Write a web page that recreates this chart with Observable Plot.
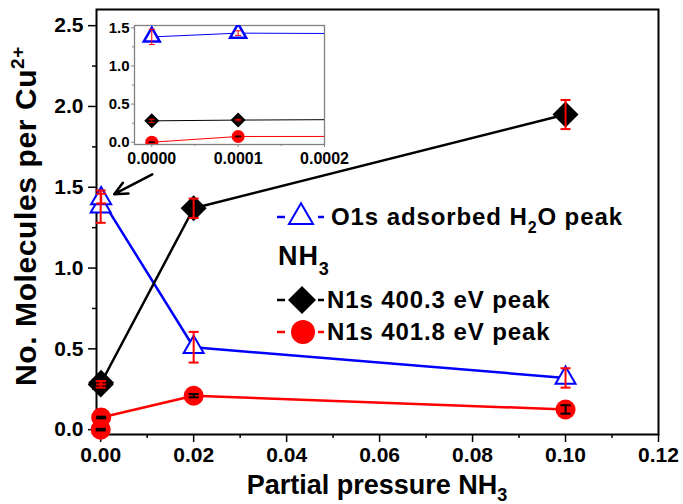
<!DOCTYPE html>
<html>
<head>
<meta charset="utf-8">
<script src="https://cdn.jsdelivr.net/npm/d3@7"></script>
<script src="https://cdn.jsdelivr.net/npm/@observablehq/plot@0.6"></script>
<style>
  body { margin: 0; background: #fff; }
  #chart { position: relative; width: 683px; height: 504px; overflow: hidden; }
  #chart svg { position: absolute; overflow: visible; }
</style>
</head>
<body>
<div id="chart"></div>
<script>
// NH3 partial pressure (x) and the three peak intensities per Cu2+ site
const pressure = [0, 0.0001, 0.02, 0.10];
const o1sWater = [1.38, 1.43, 0.51, 0.32];
const o1sWaterErr = [0.10, 0.03, 0.095, 0.06];
const n1s4003 = [0.28, 0.29, 1.37, 1.95];
const n1s4003Err = [0.02, 0.01, 0.06, 0.09];
const n1s4018 = [0.00, 0.075, 0.21, 0.125];
const n1s4018Err = [0.005, 0.005, 0.01, 0.026];

const seriesNames = ["O1s adsorbed H2O peak", "N1s 400.3 eV peak", "N1s 401.8 eV peak"];

// tick values
const mainXTicks = [0, 0.02, 0.04, 0.06, 0.08, 0.10, 0.12];
const mainXMinor = [0.01, 0.03, 0.05, 0.07, 0.09, 0.11];
const mainYTicks = [0, 0.5, 1.0, 1.5, 2.0, 2.5];
const mainYMinor = [0.25, 0.75, 1.25, 1.75, 2.25];
const insetXTicks = [0, 0.0001, 0.0002];
const insetXMinor = [0.00005, 0.00015];
const insetYTicks = [0, 0.5, 1.0, 1.5];
const insetYMinor = [0.25, 0.75, 1.25];

// arrow pointing from the inset to the low-pressure cluster
const arrowFrom = [0.0111, 1.58];
const arrowTo = [0.0029, 1.457];

// custom marker shapes (size = pi * r^2, as passed by Plot.dot)
const radius = (size) => Math.sqrt(size / Math.PI);
const capSymbol = {draw(ctx, size) { const r = radius(size); ctx.moveTo(-r, 0); ctx.lineTo(r, 0); }};
const diamondSymbol = {draw(ctx, size) {
  const r = radius(size);
  ctx.moveTo(0, -r); ctx.lineTo(r, 0); ctx.lineTo(0, r); ctx.lineTo(-r, 0); ctx.closePath();
}};
const triangleSymbol = {draw(ctx, size) {
  const r = radius(size), h = r * Math.sqrt(3);
  ctx.moveTo(0, -2 * h / 3); ctx.lineTo(r, h / 3); ctx.lineTo(-r, h / 3); ctx.closePath();
}};

const series = [
  {name: seriesNames[0], values: o1sWater, errors: o1sWaterErr, line: "#0000ff",
   symbol: triangleSymbol, fill: "white", stroke: "#0000ff", err: "#ff0000", kind: "tri"},
  {name: seriesNames[1], values: n1s4003, errors: n1s4003Err, line: "#000000",
   symbol: diamondSymbol, fill: "#000000", stroke: "none", err: "#ff0000", kind: "dia"},
  {name: seriesNames[2], values: n1s4018, errors: n1s4018Err, line: "#ff0000",
   symbol: "circle", fill: "#ff0000", stroke: "none", err: "#000000", kind: "cir"}
];

const rows = (s) => pressure.map((x, i) => ({x, y: s.values[i], e: s.errors[i]}));

function dataMarks(sz, clip) {
  const marks = [];
  for (const s of series)
    marks.push(Plot.line(rows(s), {x: "x", y: "y", stroke: s.line, strokeWidth: sz.line, clip}));
  for (const s of series)
    marks.push(Plot.dot(rows(s), {x: "x", y: "y", symbol: s.symbol, r: sz[s.kind],
      fill: s.fill, stroke: s.stroke, strokeWidth: sz.hollow, clip}));
  for (const s of series) {
    const r = rows(s);
    marks.push(Plot.ruleX(r, {x: "x", y1: (d) => d.y - d.e, y2: (d) => d.y + d.e,
      stroke: s.err, strokeWidth: sz.err, clip}));
    marks.push(Plot.dot(r, {x: "x", y: (d) => d.y + d.e, symbol: capSymbol, r: sz.cap,
      fill: "none", stroke: s.err, strokeWidth: sz.err, clip}));
    marks.push(Plot.dot(r, {x: "x", y: (d) => d.y - d.e, symbol: capSymbol, r: sz.cap,
      fill: "none", stroke: s.err, strokeWidth: sz.err, clip}));
  }
  return marks;
}

const FONT = '"Liberation Sans", Arial, sans-serif';
const blank = () => "";

const main = Plot.plot({
  width: 683, height: 504,
  marginLeft: 96, marginRight: 25, marginTop: 9, marginBottom: 70,
  style: {fontFamily: FONT, fontWeight: "bold", background: "transparent", color: "black"},
  x: {domain: [-0.0009, 0.12]},
  y: {domain: [-0.03, 2.6]},
  marks: [
    Plot.axisX(mainXTicks, {tickSize: 8, tickPadding: 5, tickFormat: d3.format(".2f"),
      fontSize: 21, strokeWidth: 1.5, label: null}),
    Plot.axisX(mainXMinor, {tickSize: 4, tickFormat: blank, strokeWidth: 1.5, label: null}),
    Plot.axisY(mainYTicks, {tickSize: 8, tickPadding: 5, tickFormat: d3.format(".1f"),
      fontSize: 21, strokeWidth: 1.5, label: null}),
    Plot.axisY(mainYMinor, {tickSize: 4, tickFormat: blank, strokeWidth: 1.5, label: null}),
    Plot.frame({stroke: "black", strokeWidth: 2}),
    ...dataMarks({line: 2.5, tri: 10, dia: 13, cir: 10, hollow: 2, err: 2, cap: 5}, false),
    Plot.arrow([{x1: arrowFrom[0], y1: arrowFrom[1], x2: arrowTo[0], y2: arrowTo[1]}],
      {x1: "x1", y1: "y1", x2: "x2", y2: "y2", stroke: "black", strokeWidth: 2.5,
       headLength: 13, headAngle: 50})
  ]
});

const inset = Plot.plot({
  width: 240, height: 160,
  marginLeft: 34, marginRight: 16, marginTop: 10, marginBottom: 31,
  style: {fontFamily: FONT, fontWeight: "bold", background: "transparent", color: "black"},
  x: {domain: [-0.00002, 0.0002]},
  y: {domain: [-0.03, 1.53]},
  marks: [
    Plot.axisX(insetXTicks, {tickSize: 3, tickPadding: 5, tickFormat: d3.format(".4f"),
      fontSize: 16, stroke: "#808080", label: null}),
    Plot.axisX(insetXMinor, {tickSize: 2, tickFormat: blank, stroke: "#808080", label: null}),
    Plot.axisY(insetYTicks, {tickSize: 3, tickPadding: 2, tickFormat: d3.format(".1f"),
      fontSize: 15, stroke: "#808080", label: null}),
    Plot.axisY(insetYMinor, {tickSize: 2, tickFormat: blank, stroke: "#808080", label: null}),
    Plot.frame({stroke: "#808080", strokeWidth: 1.3}),
    ...dataMarks({line: 1, tri: 8, dia: 7.5, cir: 6.5, hollow: 2.5, err: 1, cap: 3}, true)
  ]
});

const chart = document.getElementById("chart");
main.style.left = "0px"; main.style.top = "0px";
inset.style.left = "100px"; inset.style.top = "15px";
chart.append(main, inset);

// axis titles and legend, drawn on top of the main SVG
const svg = d3.select(main);
const g = svg.append("g").attr("font-family", FONT).attr("font-weight", "bold")
  .attr("fill", "black").attr("text-anchor", "start");

const yTitle = g.append("text").attr("transform", "translate(36,216) rotate(-90)")
  .attr("text-anchor", "middle").attr("font-size", 30).attr("letter-spacing", 0.6);
yTitle.append("tspan").text("No. Molecules per Cu");
yTitle.append("tspan").attr("dy", -12).attr("font-size", 19).text("2+");

const xTitle = g.append("text").attr("x", 377).attr("y", 494)
  .attr("text-anchor", "middle").attr("font-size", 27);
xTitle.append("tspan").text("Partial pressure NH");
xTitle.append("tspan").attr("dy", 7).attr("font-size", 18).text("3");

// legend
function legendSymbol(s, cx, cy, r) {
  g.append("line").attr("x1", 277).attr("x2", 285).attr("y1", cy).attr("y2", cy)
    .attr("stroke", s.line).attr("stroke-width", 2.5);
  g.append("line").attr("x1", 318).attr("x2", 324).attr("y1", cy).attr("y2", cy)
    .attr("stroke", s.line).attr("stroke-width", 2.5);
  const p = d3.path();
  const shape = s.symbol === "circle" ? d3.symbolCircle : s.symbol;
  shape.draw(p, r * r * Math.PI);
  g.append("path").attr("d", p.toString()).attr("transform", `translate(${cx},${cy})`)
    .attr("fill", s.fill).attr("stroke", s.stroke).attr("stroke-width", 2);
}
function legendLabel(x, y, parts, size, subSize, shift) {
  const t = g.append("text").attr("x", x).attr("y", y).attr("font-size", size)
    .attr("letter-spacing", 0.9);
  parts.forEach(([txt, sub], i) => {
    const sp = t.append("tspan").text(txt);
    if (sub) sp.attr("dy", shift).attr("font-size", subSize);
    else if (i > 0) sp.attr("dy", -shift);
  });
}
legendSymbol(series[0], 301, 217, 12);
legendLabel(331, 225, [["O1s adsorbed H", false], ["2", true], ["O peak", false]], 24, 16, 8);
legendLabel(278, 265, [["NH", false], ["3", true]], 27, 18, 10);
legendSymbol(series[1], 302, 300, 14);
legendLabel(327, 308, [["N1s 400.3 eV peak", false]], 24, 16, 8);
legendSymbol(series[2], 303, 332, 12);
legendLabel(327, 340, [["N1s 401.8 eV peak", false]], 24, 16, 8);
</script>
</body>
</html>
